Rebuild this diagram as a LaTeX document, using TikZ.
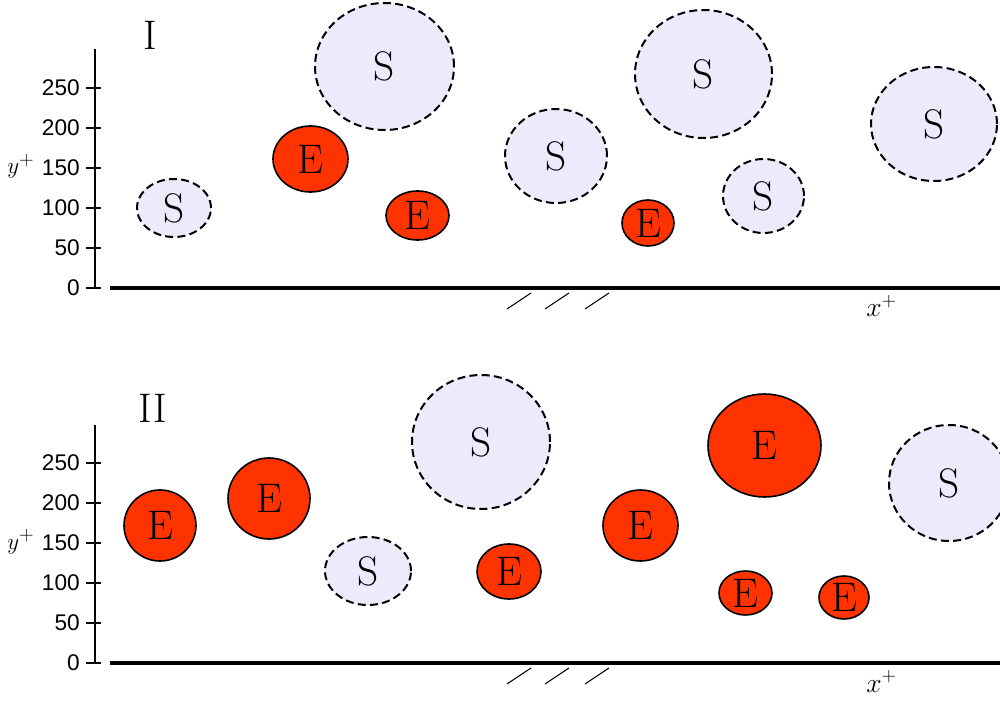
\documentclass[tikz,border=0pt]{standalone}
\usepackage{fontspec}
\newfontfamily\ticksf{Liberation Sans}
\usetikzlibrary{shapes.geometric}
\definecolor{sfill}{HTML}{EBEBFC}
\definecolor{efill}{HTML}{FF3300}
\tikzset{
  sbl/.style={ellipse, draw=black, fill=sfill, line width=1.5pt, dash pattern=on 6pt off 3.2pt, inner sep=0pt, font=\fontsize{31}{31}\selectfont},
  ebl/.style={ellipse, draw=black, fill=efill, line width=1.2pt, inner sep=0pt, font=\fontsize{31}{31}\selectfont},
  ticklab/.style={anchor=east, inner sep=0pt, font=\ticksf\fontsize{17}{17}\selectfont},
  axisline/.style={line width=1.5pt},
  tickline/.style={line width=1pt},
  baseline/.style={line width=3pt},
  slash/.style={line width=0.8pt},
  panellab/.style={inner sep=0pt, font=\fontsize{31}{31}\selectfont},
}
\begin{document}
\begin{tikzpicture}[x=0.75pt,y=-0.75pt]
\useasboundingbox (0,0) rectangle (1000,702);
\begin{scope}
\clip (0,0) rectangle (1000,702);
% ---------- Panel I ----------
\node[panellab] (pI) at (150,35) {I};
\coordinate (aIt) at (95,49);
\coordinate (aIb) at (95,288);
\draw[axisline] (aIt) -- (aIb);
\foreach \v/\yy in {0/288,50/248,100/208,150/168,200/128,250/88}{
  \coordinate (tIa\v) at (86,\yy);
  \coordinate (tIb\v) at (101,\yy);
  \draw[tickline] (tIa\v) -- (tIb\v);
  \node[ticklab] (lI\v) at (80,\yy) {\v};
}
\node[anchor=base west, inner sep=0pt, font=\fontsize{19}{19}\selectfont] (yI) at (7,174) {$y^+$};
\coordinate (bIl) at (110,288);
\coordinate (bIr) at (1000,288);
\draw[baseline] (bIl) -- (bIr);
\node[anchor=base west, inner sep=0pt, font=\fontsize{20}{20}\selectfont] (xI) at (866,317) {$x^+$};
\foreach \xa in {507,545,585}{
  \draw[slash] (\xa,309) -- ++(24,-16);
}
\node[sbl, minimum width=74*0.75pt, minimum height=58*0.75pt] (s1) at (174,208) {S};
\node[sbl, minimum width=139*0.75pt, minimum height=127*0.75pt] (s2) at (384.5,66.5) {S};
\node[ebl, minimum width=75*0.75pt, minimum height=66*0.75pt] (e1) at (310.5,159) {E};
\node[ebl, minimum width=63*0.75pt, minimum height=49*0.75pt] (e2) at (417.5,215.5) {E};
\node[sbl, minimum width=102*0.75pt, minimum height=94*0.75pt] (s3) at (556,156) {S};
\node[ebl, minimum width=52*0.75pt, minimum height=46*0.75pt] (e3) at (648,223) {E};
\node[sbl, minimum width=137*0.75pt, minimum height=128*0.75pt] (s4) at (703.5,74) {S};
\node[sbl, minimum width=81*0.75pt, minimum height=74*0.75pt] (s5) at (763.5,196) {S};
\node[sbl, minimum width=126*0.75pt, minimum height=114*0.75pt] (s6) at (934,124) {S};
% ---------- Panel II ----------
\node[panellab] (pII) at (153,408) {II};
\coordinate (aIIt) at (95,425);
\coordinate (aIIb) at (95,663);
\draw[axisline] (aIIt) -- (aIIb);
\foreach \v/\yy in {0/663,50/623,100/583,150/543,200/503,250/463}{
  \coordinate (tIIa\v) at (86,\yy);
  \coordinate (tIIb\v) at (101,\yy);
  \draw[tickline] (tIIa\v) -- (tIIb\v);
  \node[ticklab] (lII\v) at (80,\yy) {\v};
}
\node[anchor=base west, inner sep=0pt, font=\fontsize{19}{19}\selectfont] (yII) at (7,549) {$y^+$};
\coordinate (bIIl) at (110,663);
\coordinate (bIIr) at (1000,663);
\draw[baseline] (bIIl) -- (bIIr);
\node[anchor=base west, inner sep=0pt, font=\fontsize{20}{20}\selectfont] (xII) at (866,692) {$x^+$};
\foreach \xa in {507,545,585}{
  \draw[slash] (\xa,684) -- ++(24,-16);
}
\node[ebl, minimum width=72*0.75pt, minimum height=71*0.75pt] (f1) at (160,525.5) {E};
\node[ebl, minimum width=82*0.75pt, minimum height=81*0.75pt] (f2) at (269,498.5) {E};
\node[sbl, minimum width=86*0.75pt, minimum height=68*0.75pt] (t1) at (368,571) {S};
\node[sbl, minimum width=138*0.75pt, minimum height=134*0.75pt] (t2) at (481,442) {S};
\node[ebl, minimum width=64*0.75pt, minimum height=55*0.75pt] (f3) at (509,571.5) {E};
\node[ebl, minimum width=75*0.75pt, minimum height=71*0.75pt] (f4) at (640.5,525.5) {E};
\node[ebl, minimum width=113*0.75pt, minimum height=103*0.75pt] (f5) at (764.5,445.5) {E};
\node[ebl, minimum width=53*0.75pt, minimum height=44*0.75pt] (f6) at (745.5,593) {E};
\node[ebl, minimum width=50*0.75pt, minimum height=43*0.75pt] (f7) at (844,597.5) {E};
\node[sbl, minimum width=120*0.75pt, minimum height=116*0.75pt] (t3) at (949,483) {S};
\end{scope}
\end{tikzpicture}
\end{document}
